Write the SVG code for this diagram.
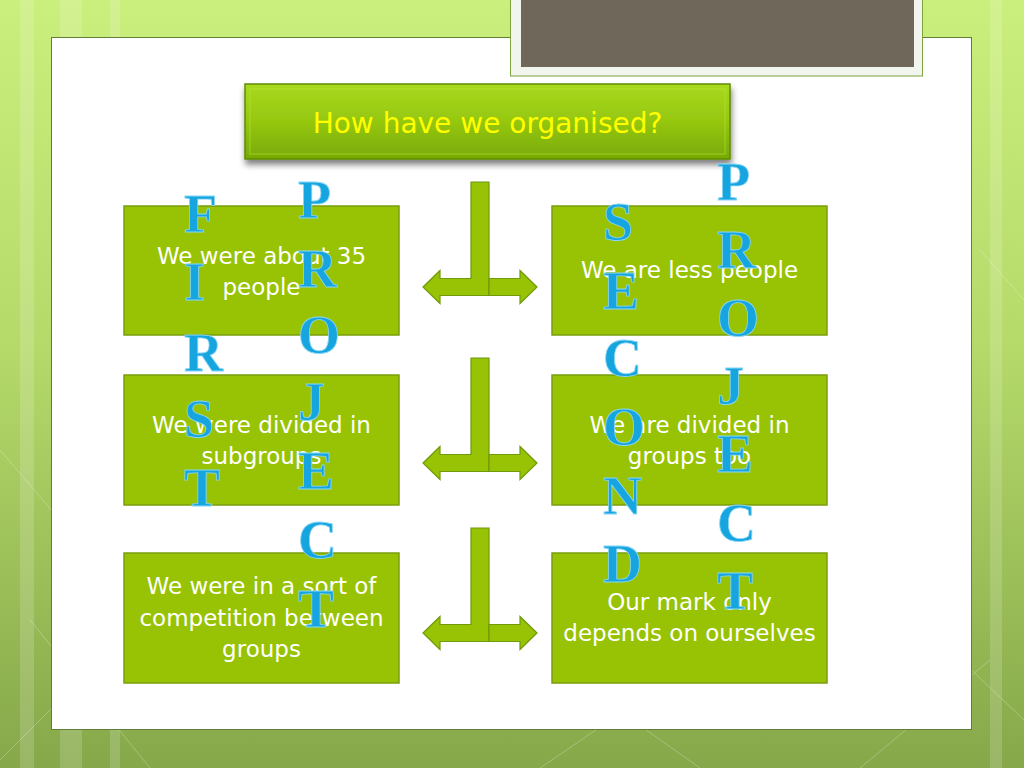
<svg xmlns="http://www.w3.org/2000/svg" width="1024" height="768" viewBox="0 0 1024 768">
  <defs>
    <linearGradient id="bg" x1="0" y1="0" x2="0" y2="1">
      <stop offset="0" stop-color="#CBEF7C"/>
      <stop offset="0.45" stop-color="#B5DA6A"/>
      <stop offset="1" stop-color="#86A84A"/>
    </linearGradient>
    <linearGradient id="titleGrad" x1="0" y1="0" x2="0" y2="1">
      <stop offset="0" stop-color="#A9DA1E"/>
      <stop offset="0.5" stop-color="#95C710"/>
      <stop offset="1" stop-color="#78A905"/>
    </linearGradient>
    <filter id="shadow" x="-10%" y="-20%" width="120%" height="160%">
      <feGaussianBlur in="SourceAlpha" stdDeviation="3"/>
      <feOffset dx="1" dy="5" result="b"/>
      <feComponentTransfer><feFuncA type="linear" slope="0.5"/></feComponentTransfer>
      <feMerge><feMergeNode/><feMergeNode in="SourceGraphic"/></feMerge>
    </filter>
  </defs>
  <style>
    .box { fill: #97C304; stroke: #7A9E0E; stroke-width: 1.5; }
    .btxt { font-family: "DejaVu Sans", "Liberation Sans", sans-serif; font-size: 23px; fill: #FFFFFF; text-anchor: middle; }
    .arr { fill: #97C304; stroke: #6F9A0A; stroke-width: 1.2; stroke-linejoin: miter; }
    .ltr { font-family: "Liberation Serif", "DejaVu Serif", serif; font-weight: bold; font-size: 54px; fill: #17A5E0; stroke: #8AD6F5; stroke-width: 0.8; }
  </style>

  <!-- background -->
  <rect x="0" y="0" width="1024" height="768" fill="url(#bg)"/>
  <g opacity="0.16" fill="#FFFFFF">
    <rect x="20" y="0" width="14" height="768"/>
    <rect x="60" y="0" width="22" height="768"/>
    <rect x="110" y="0" width="10" height="768"/>
    <rect x="990" y="0" width="12" height="768"/>
  </g>
  <g opacity="0.25" stroke="#FFFFFF" stroke-width="1" fill="none">
    <path d="M0,760 L120,640 M150,768 L30,620 M540,768 L640,700 M700,768 L590,690 M860,768 L990,660 M1024,720 L940,640"/>
    <path d="M0,450 L60,520 M980,250 L1024,300"/>
  </g>

  <!-- white panel -->
  <rect x="51.5" y="37.5" width="920" height="692" fill="#FFFFFF" stroke="#5F7F37" stroke-width="1"/>

  <!-- top-right dark frame -->
  <g id="topframe">
    <rect x="510.5" y="-4" width="412" height="80" fill="#F2F5EE" stroke="#7FA33E" stroke-width="1"/>
    <rect x="521" y="-2" width="393" height="69" fill="#6E675A"/>
  </g>

  <!-- title -->
  <g id="title">
    <g filter="url(#shadow)">
      <rect x="245" y="84" width="485" height="75" fill="url(#titleGrad)" stroke="#5F8C00" stroke-width="1.5"/>
      <rect x="250" y="89" width="475" height="65" fill="none" stroke="#B8E43A" stroke-width="1" opacity="0.6"/>
    </g>
    <text x="487.5" y="133" font-family="DejaVu Sans, Liberation Sans, sans-serif" font-size="28" fill="#FFFF00" text-anchor="middle">How have we organised?</text>
  </g>

  <!-- connectors -->
  <g id="connectors" class="arr">
    <g transform="translate(0,182)">
      <path d="M423,105 L440,88.5 L440,96.5 L471,96.5 L471,0 L489,0 L489,113.5 L440,113.5 L440,121.5 Z"/>
      <path d="M537,105 L520,88.5 L520,96.5 L489,96.5 L489,113.5 L520,113.5 L520,121.5 Z"/>
    </g>
    <g transform="translate(0,358)">
      <path d="M423,105 L440,88.5 L440,96.5 L471,96.5 L471,0 L489,0 L489,113.5 L440,113.5 L440,121.5 Z"/>
      <path d="M537,105 L520,88.5 L520,96.5 L489,96.5 L489,113.5 L520,113.5 L520,121.5 Z"/>
    </g>
    <g transform="translate(0,528)">
      <path d="M423,105 L440,88.5 L440,96.5 L471,96.5 L471,0 L489,0 L489,113.5 L440,113.5 L440,121.5 Z"/>
      <path d="M537,105 L520,88.5 L520,96.5 L489,96.5 L489,113.5 L520,113.5 L520,121.5 Z"/>
    </g>
  </g>

  <!-- nodes -->
  <g id="node-l1">
    <rect class="box" x="124" y="206" width="275" height="129"/>
    <text class="btxt" x="261.5" y="264">We were about 35</text>
    <text class="btxt" x="261.5" y="295">people</text>
  </g>
  <g id="node-r1">
    <rect class="box" x="552" y="206" width="275" height="129"/>
    <text class="btxt" x="689.5" y="278">We are less people</text>
  </g>
  <g id="node-l2">
    <rect class="box" x="124" y="375" width="275" height="130"/>
    <text class="btxt" x="261.5" y="433">We were divided in</text>
    <text class="btxt" x="261.5" y="464">subgroups</text>
  </g>
  <g id="node-r2">
    <rect class="box" x="552" y="375" width="275" height="130"/>
    <text class="btxt" x="689.5" y="433">We are divided in</text>
    <text class="btxt" x="689.5" y="464">groups too</text>
  </g>
  <g id="node-l3">
    <rect class="box" x="124" y="553" width="275" height="130"/>
    <text class="btxt" x="261.5" y="594">We were in a sort of</text>
    <text class="btxt" x="261.5" y="626">competition between</text>
    <text class="btxt" x="261.5" y="657">groups</text>
  </g>
  <g id="node-r3">
    <rect class="box" x="552" y="553" width="275" height="130"/>
    <text class="btxt" x="689.5" y="610">Our mark only</text>
    <text class="btxt" x="689.5" y="641">depends on ourselves</text>
  </g>

  <!-- vertical letters -->
  <g id="first">
    <text class="ltr"><tspan x="184" y="232">F</tspan><tspan x="184" y="300">I</tspan><tspan x="184" y="371">R</tspan><tspan x="184" y="437">S</tspan><tspan x="184" y="506">T</tspan></text>
  </g>
  <g id="project1">
    <text class="ltr"><tspan x="298" y="218">P</tspan><tspan x="298" y="287">R</tspan><tspan x="298" y="353">O</tspan><tspan x="298" y="420">J</tspan><tspan x="298" y="489">E</tspan><tspan x="298" y="558">C</tspan><tspan x="298" y="627">T</tspan></text>
  </g>
  <g id="second">
    <text class="ltr"><tspan x="603" y="240">S</tspan><tspan x="603" y="309">E</tspan><tspan x="603" y="376">C</tspan><tspan x="603" y="445">O</tspan><tspan x="603" y="514">N</tspan><tspan x="603" y="582">D</tspan></text>
  </g>
  <g id="project2">
    <text class="ltr"><tspan x="717" y="200">P</tspan><tspan x="717" y="268">R</tspan><tspan x="717" y="336">O</tspan><tspan x="717" y="404">J</tspan><tspan x="717" y="472">E</tspan><tspan x="717" y="541">C</tspan><tspan x="717" y="609">T</tspan></text>
  </g>
</svg>
